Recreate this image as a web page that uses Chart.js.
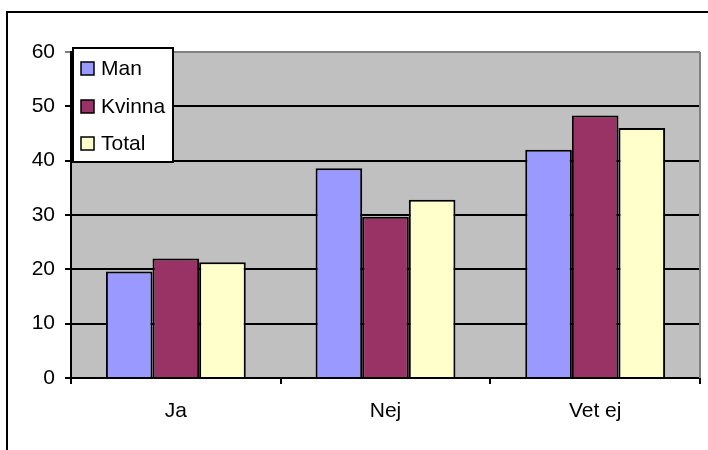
<!DOCTYPE html>
<html>
<head>
<meta charset="utf-8">
<script src="https://cdn.jsdelivr.net/npm/chart.js@4"></script>
<style>
  html, body { margin: 0; padding: 0; background: #fff; }
  #wrap { width: 708px; height: 450px; position: relative; }
</style>
</head>
<body>
<div id="wrap"><canvas id="chart" width="708" height="450"></canvas></div>
<script>
const categories = ['Ja', 'Nej', 'Vet ej'];
const man = [19.6, 38.6, 42.0];
const kvinna = [22.0, 29.7, 48.3];
const total = [21.3, 32.8, 46.0];
const yTicks = [0, 10, 20, 30, 40, 50, 60];

const FONT = 'Arial, "Liberation Sans", sans-serif';

// grey plot area + outer frame + custom legend box
const excelLook = {
  id: 'excelLook',
  beforeDraw(chart) {
    const { ctx, chartArea: a } = chart;
    ctx.save();
    ctx.fillStyle = '#c0c0c0';
    ctx.fillRect(a.left, a.top, a.right - a.left, a.bottom - a.top);
    // outer chart frame
    ctx.strokeStyle = '#000';
    ctx.lineWidth = 2;
    ctx.beginPath();
    ctx.moveTo(7, 450);
    ctx.lineTo(7, 12);
    ctx.lineTo(708, 12);
    ctx.stroke();
    ctx.restore();
  },
  afterDraw(chart) {
    const { ctx, chartArea: a } = chart;
    ctx.save();
    // right border of plot area
    ctx.strokeStyle = '#808080';
    ctx.lineWidth = 2;
    ctx.beginPath();
    ctx.moveTo(a.right, a.top);
    ctx.lineTo(a.right, a.bottom);
    ctx.stroke();

    // legend
    const x0 = 73, y0 = 48, w = 100, h = 114;
    ctx.fillStyle = '#fff';
    ctx.fillRect(x0, y0, w, h);
    ctx.strokeStyle = '#000';
    ctx.lineWidth = 2;
    ctx.strokeRect(x0, y0, w, h);
    const rows = [68, 106, 143];
    ctx.font = '21px ' + FONT;
    ctx.textBaseline = 'middle';
    chart.data.datasets.forEach((ds, i) => {
      const cy = rows[i];
      ctx.fillStyle = ds.backgroundColor;
      ctx.fillRect(81, cy - 6, 13, 13);
      ctx.lineWidth = 1.5;
      ctx.strokeStyle = '#000';
      ctx.strokeRect(81, cy - 6, 13, 13);
      ctx.fillStyle = '#000';
      ctx.fillText(ds.label, 101, cy + 1);
    });
    ctx.restore();
  }
};

new Chart(document.getElementById('chart'), {
  type: 'bar',
  data: {
    labels: categories,
    datasets: [
      { label: 'Man', data: man, backgroundColor: '#9999ff' },
      { label: 'Kvinna', data: kvinna, backgroundColor: '#993366' },
      { label: 'Total', data: total, backgroundColor: '#ffffcc' }
    ].map(d => Object.assign(d, {
      borderColor: '#000',
      borderWidth: 2,
      categoryPercentage: 0.667,
      barPercentage: 1
    }))
  },
  options: {
    responsive: false,
    animation: false,
    layout: { padding: { top: 52, right: 8, left: 0, bottom: 0 } },
    plugins: {
      legend: { display: false },
      tooltip: { enabled: false }
    },
    scales: {
      x: {
        afterFit(scale) { scale.height = 72; },
        grid: {
          display: true,
          drawOnChartArea: false,
          color: '#000',
          lineWidth: 2,
          tickLength: 6,
          offset: true
        },
        border: { color: '#000', width: 2 },
        ticks: {
          color: '#000',
          font: { family: FONT, size: 21 },
          padding: 15
        }
      },
      y: {
        min: 0,
        max: 60,
        afterFit(scale) { scale.width = 71; },
        afterBuildTicks(scale) { scale.ticks = yTicks.map(v => ({ value: v })); },
        grid: {
          color: ctx => (ctx.tick && ctx.tick.value === 60 ? '#808080' : '#000'),
          lineWidth: 2,
          tickLength: 6
        },
        border: { color: '#000', width: 2 },
        ticks: {
          color: '#000',
          font: { family: FONT, size: 21 },
          padding: 10
        }
      }
    }
  },
  plugins: [excelLook]
});
</script>
</body>
</html>
